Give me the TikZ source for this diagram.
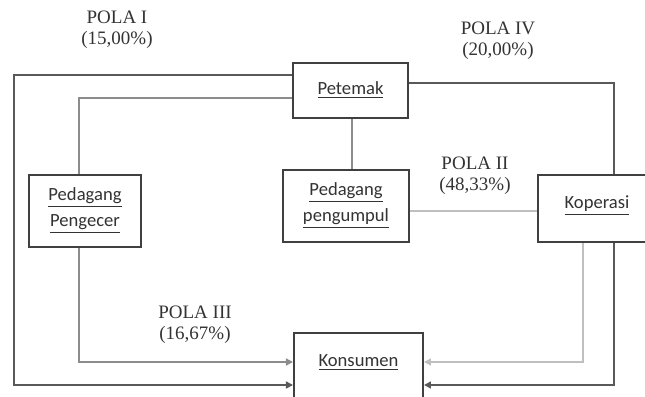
\documentclass[tikz,border=0pt]{standalone}
\usepackage{fontspec}
\setmainfont{Liberation Serif}
\newfontfamily\boxfont{Carlito}
\usetikzlibrary{arrows.meta}
\newcommand{\uln}[1]{\underline{#1}}

\begin{document}
\begin{tikzpicture}[x=0.5pt, y=-0.5pt,
	box/.style={draw=black!75, line width=1pt, fill=white, font=\boxfont\fontsize{9.3}{13}\selectfont, align=center, inner sep=0pt, text=black!80},
	pola/.style={font=\fontsize{9.5}{10.5}\selectfont, align=center, text=black!80},
	dark/.style={draw=black!65, line width=0.8pt},
	mid/.style={draw=black!45, line width=0.7pt},
	light/.style={draw=black!25, line width=0.6pt},
	>={Triangle[length=3.5pt, width=3.5pt]}]
	\useasboundingbox (0,0) rectangle (645,397);
	% boxes
	\node[box, minimum width=57.5pt, minimum height=27.5pt] (petemak) at (350.5,90.5) {\uln{Petemak}};
	\node[box, minimum width=56pt, minimum height=36pt] (pengecer) at (85,211) {\uln{Pedagang}\\\uln{Pengecer}};
	\node[box, minimum width=63pt, minimum height=36pt] (pengumpul) at (346,206) {\uln{Pedagang}\\\uln{pengumpul}};
	\node[box, minimum width=59pt, minimum height=33.5pt, text height=6pt, text depth=6pt] (koperasi) at (597,208.5) {\uln{Koperasi}};
	\node[box, minimum width=64.5pt, minimum height=35pt, text height=6pt, text depth=8pt] (konsumen) at (358.5,368) {\uln{Konsumen}};
	% labels
	\node[pola] (pola1) at (117,29.5) {POLA I\\(15,00\%)};
	\node[pola] (pola4) at (498,41) {POLA IV\\(20,00\%)};
	\node[pola] (pola2) at (475,175.5) {POLA II\\(48,33\%)};
	\node[pola] (pola3) at (195,324.5) {POLA III\\(16,67\%)};
	% pola I
	\draw[dark, ->] (petemak.west |- 0,75) -| (14,385) -- (konsumen.west |- 0,385);
	% pola III
	\draw[mid] (petemak.west |- 0,98) -| (79,0 |- pengecer.north);
	\draw[mid, ->] (79,0 |- pengecer.south) |- (konsumen.west |- 0,362);
	% pola II
	\draw[mid] (352,0 |- petemak.south) -- (352,0 |- pengumpul.north);
	\draw[light] (pengumpul.east |- 0,211) -- (koperasi.west |- 0,211);
	\draw[light, ->] (583,0 |- koperasi.south) |- (konsumen.east |- 0,362);
	% pola IV
	\draw[dark] (petemak.east |- 0,83) -| (614,0 |- koperasi.north);
	\draw[dark, ->] (614,0 |- koperasi.south) |- (konsumen.east |- 0,385);
\end{tikzpicture}
\end{document}
